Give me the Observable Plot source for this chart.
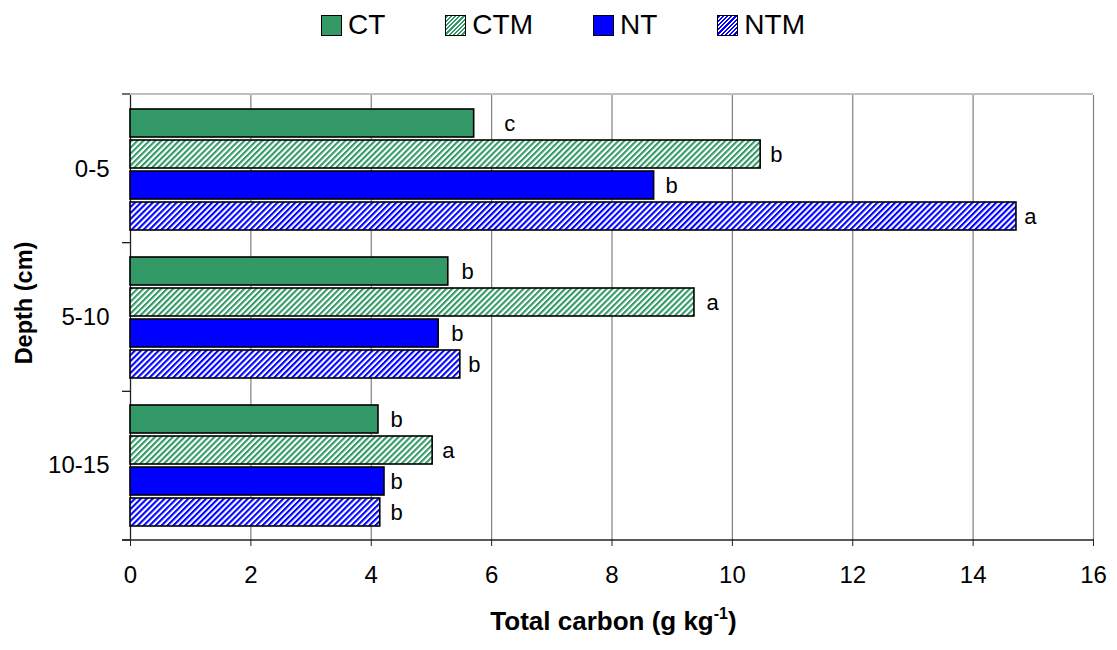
<!DOCTYPE html>
<html><head><meta charset="utf-8">
<script src="https://cdn.jsdelivr.net/npm/d3@7"></script>
<script src="https://cdn.jsdelivr.net/npm/@observablehq/plot@0.6"></script>
<style>
body{margin:0;background:#fff;font-family:"Liberation Sans",Arial,sans-serif;}
#legend{height:50px;display:flex;justify-content:center;align-items:center;padding-left:9px;font-size:28px;color:#000;}
.item{display:flex;align-items:center;margin:0 30px;}
.sw{width:19px;height:19px;border:1.5px solid #000;margin-right:6px;box-sizing:content-box;}
#chart svg{display:block;}
</style></head><body>
<div id="legend"></div><div id="chart"></div>
<script>
// ---- data ----
const depths = ["0-5", "5-10", "10-15"];
const treatments = ["CT", "CTM", "NT", "NTM"];
const ctValues  = [5.71, 5.28, 4.12];
const ctmValues = [10.47, 9.37, 5.02];
const ntValues  = [8.70, 5.12, 4.22];
const ntmValues = [14.72, 5.48, 4.15];
const ctLetters  = ["c", "b", "b"];
const ctmLetters = ["b", "a", "a"];
const ntLetters  = ["b", "b", "b"];
const ntmLetters = ["a", "b", "b"];
// where the significance letters sit (g kg-1)
const ctLetterAt  = [6.21, 5.50, 4.32];
const ctmLetterAt = [10.63, 9.57, 5.18];
const ntLetterAt  = [8.89, 5.33, 4.32];
const ntmLetterAt = [14.85, 5.61, 4.32];
const xTicks = [0, 2, 4, 6, 8, 10, 12, 14, 16];

const seriesValues = [ctValues, ctmValues, ntValues, ntmValues];
const seriesLetters = [ctLetters, ctmLetters, ntLetters, ntmLetters];
const seriesLetterAt = [ctLetterAt, ctmLetterAt, ntLetterAt, ntmLetterAt];
const rows = [];
depths.forEach((d, i) => treatments.forEach((t, j) => rows.push({
  depth: d, treatment: t, value: seriesValues[j][i],
  letter: seriesLetters[j][i], letterAt: seriesLetterAt[j][i]
})));

const GREEN = "#339966", BLUE = "#0000FF";
const fills = [GREEN, "url(#hatchGreen)", BLUE, "url(#hatchBlue)"];

// ---- legend ----
const legendSw = {
  CT: GREEN,
  CTM: `repeating-linear-gradient(135deg, ${GREEN} 0 1.5px, #fff 1.5px 3px)`,
  NT: BLUE,
  NTM: `repeating-linear-gradient(135deg, ${BLUE} 0 1.5px, #fff 1.5px 3px)`
};
const legend = d3.select("#legend");
treatments.forEach(t => {
  const it = legend.append("div").attr("class", "item");
  it.append("div").attr("class", "sw").style("background", legendSw[t]);
  it.append("span").text(t);
});

// ---- chart ----
const W = 1117, H = 600, ML = 130, MR = 24, MT = 44, MB = 110;
const chart = Plot.plot({
  width: W, height: H, marginLeft: ML, marginRight: MR, marginTop: MT, marginBottom: MB,
  style: {fontFamily: "'Liberation Sans', Arial, sans-serif", fontSize: "24px", color: "#000", background: "#fff"},
  x: {domain: [0, 16]},
  y: {domain: treatments, paddingInner: 0.1, paddingOuter: 0.4, axis: null},
  fy: {domain: depths, paddingInner: 0, paddingOuter: 0, label: null},
  color: {type: "ordinal", domain: treatments, range: fills},
  marks: [
    Plot.gridX(xTicks.filter(v => v > 0), {stroke: "#808080", strokeOpacity: 1, strokeWidth: 1.2}),
    Plot.ruleX([0], {stroke: "#222", strokeWidth: 1.3}),
    Plot.barX(rows, {x: "value", y: "treatment", fy: "depth", fill: "treatment", stroke: "#000", strokeWidth: 1.6}),
    Plot.text(rows, {x: "letterAt", y: "treatment", fy: "depth", text: "letter", textAnchor: "start", fontSize: 22, fill: "#000"}),
    Plot.axisX(xTicks, {tickSize: 7, tickPadding: 19, fontSize: 24, label: null, stroke: "#222"}),
    Plot.axisFy({anchor: "left", tickSize: 0, tickPadding: 21, fontSize: 24, label: null})
  ]
});
document.getElementById("chart").appendChild(chart);

const svg = d3.select(chart.tagName.toLowerCase() === "svg" ? chart : chart.querySelector("svg"));
const defs = svg.insert("defs", ":first-child");
function hatch(id, color) {
  const s = 4.2;
  const p = defs.append("pattern").attr("id", id).attr("patternUnits", "userSpaceOnUse")
    .attr("width", s).attr("height", s).attr("patternTransform", "rotate(45)");
  p.append("rect").attr("width", s).attr("height", s).attr("fill", "#fff");
  p.append("rect").attr("width", s / 2).attr("height", s).attr("fill", color);
}
hatch("hatchGreen", GREEN);
hatch("hatchBlue", BLUE);

const xr = (chart.scale("x") || {range: [ML, W - MR]}).range;
let fyr;
try { fyr = chart.scale("fy").range; } catch (e) { fyr = null; }
if (!fyr) fyr = [MT, H - MB];
const plotTop = fyr[0], plotBottom = fyr[1];
const step = (plotBottom - plotTop) / depths.length;
const g = svg.append("g");
// top border
g.append("line").attr("x1", xr[0]).attr("x2", xr[1]).attr("y1", plotTop).attr("y2", plotTop)
  .attr("stroke", "#808080").attr("stroke-width", 1.2);
// category boundary ticks on the y axis
for (let k = 0; k <= depths.length; k++) {
  const yy = plotTop + k * step;
  g.append("line").attr("x1", xr[0] - 8).attr("x2", xr[0]).attr("y1", yy).attr("y2", yy)
    .attr("stroke", "#222").attr("stroke-width", 1.3);
}
// bottom axis line
g.append("line").attr("x1", xr[0] - 8).attr("x2", xr[1]).attr("y1", plotBottom).attr("y2", plotBottom)
  .attr("stroke", "#222").attr("stroke-width", 1.3);
// x title
const xt = g.append("text").attr("x", (xr[0] + xr[1]) / 2 + 2).attr("y", plotBottom + 90)
  .attr("text-anchor", "middle").attr("font-weight", "bold").attr("font-size", 26)
  .attr("font-family", "'Liberation Sans', Arial, sans-serif").attr("fill", "#000");
xt.append("tspan").text("Total carbon (g kg");
xt.append("tspan").attr("font-size", 16).attr("dy", -11).text("-1");
xt.append("tspan").attr("dy", 11).text(")");
// y title
g.append("text").attr("transform", `translate(32,${(plotTop + plotBottom) / 2 - 14}) rotate(-90)`)
  .attr("text-anchor", "middle").attr("font-weight", "bold").attr("font-size", 23.5)
  .attr("font-family", "'Liberation Sans', Arial, sans-serif").attr("fill", "#000")
  .text("Depth (cm)");
</script>
</body></html>
